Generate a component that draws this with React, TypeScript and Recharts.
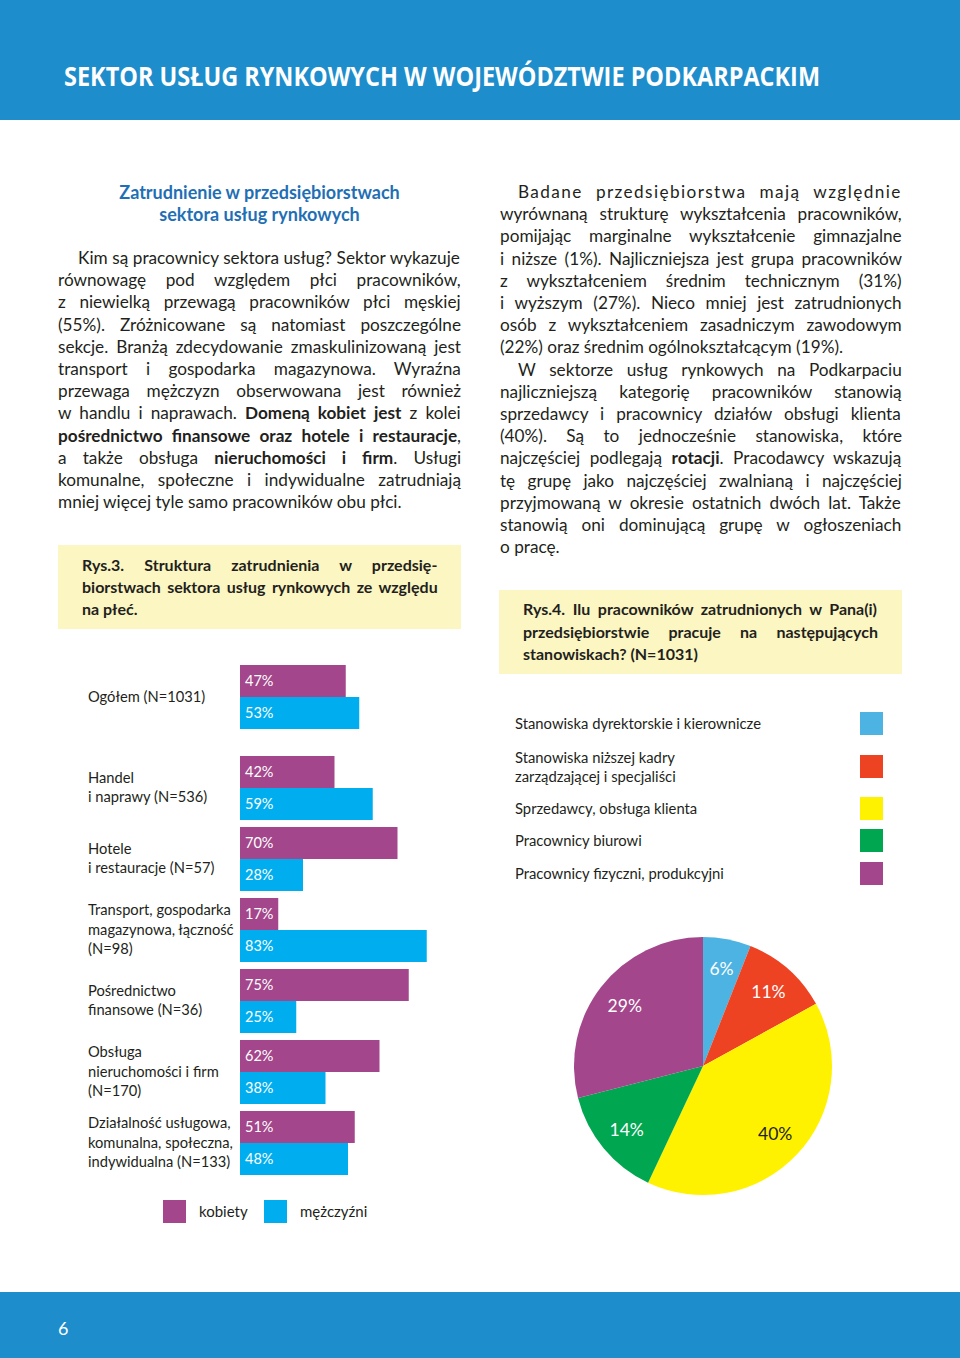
import React from 'react';
import { BarChart, Bar, XAxis, YAxis, LabelList, PieChart, Pie, Cell } from 'recharts';

// ---------- DATA ----------
const overallCategory = ['Ogółem (N=1031)'];
const overallWomen = [47];
const overallMen = [53];

const sectorCategories = [
  'Handel\ni naprawy (N=536)',
  'Hotele\ni restauracje (N=57)',
  'Transport, gospodarka\nmagazynowa, łączność\n(N=98)',
  'Pośrednictwo\nfinansowe (N=36)',
  'Obsługa\nnieruchomości i firm\n(N=170)',
  'Działalność usługowa,\nkomunalna, społeczna,\nindywidualna (N=133)',
];
const sectorWomen = [42, 70, 17, 75, 62, 51];
const sectorMen = [59, 28, 83, 25, 38, 48];

const seriesNames = ['kobiety', 'mężczyźni'];
const seriesColors = ['#a3468b', '#00aeef'];

const positionLabels = [
  'Stanowiska dyrektorskie i kierownicze',
  'Stanowiska niższej kadry\nzarządzającej i specjaliści',
  'Sprzedawcy, obsługa klienta',
  'Pracownicy biurowi',
  'Pracownicy fizyczni, produkcyjni',
];
const positionValues = [6, 11, 40, 14, 29];
const positionColors = ['#4cb3e2', '#ee4323', '#fff200', '#00a650', '#a3468b'];
const positionLabelColors = ['#ffffff', '#ffffff', '#231f20', '#ffffff', '#ffffff'];

// ---------- TEXT ----------
const leftHeading = ['Zatrudnienie w przedsiębiorstwach', 'sektora usług rynkowych'];
const leftLines = [
  'Kim są pracownicy sektora usług? Sektor wykazuje',
  'równowagę pod względem płci pracowników,',
  'z niewielką przewagą pracowników płci męskiej',
  '(55%). Zróżnicowane są natomiast poszczególne',
  'sekcje. Branżą zdecydowanie zmaskulinizowaną jest',
  'transport i gospodarka magazynowa. Wyraźna',
  'przewaga mężczyzn obserwowana jest również',
  'w handlu i naprawach. **Domeną kobiet jest** z kolei',
  '**pośrednictwo finansowe oraz hotele i restauracje**,',
  'a także obsługa **nieruchomości i firm**. Usługi',
  'komunalne, społeczne i indywidualne zatrudniają',
  'mniej więcej tyle samo pracowników obu płci.',
];
const leftIndent = [0];
const leftLast = [11];

const rightLines = [
  'Badane przedsiębiorstwa mają względnie',
  'wyrównaną strukturę wykształcenia pracowników,',
  'pomijając marginalne wykształcenie gimnazjalne',
  'i niższe (1%). Najliczniejsza jest grupa pracowników',
  'z wykształceniem średnim technicznym (31%)',
  'i wyższym (27%). Nieco mniej jest zatrudnionych',
  'osób z wykształceniem zasadniczym zawodowym',
  '(22%) oraz średnim ogólnokształcącym (19%).',
  'W sektorze usług rynkowych na Podkarpaciu',
  'najliczniejszą kategorię pracowników stanowią',
  'sprzedawcy i pracownicy działów obsługi klienta',
  '(40%). Są to jednocześnie stanowiska, które',
  'najczęściej podlegają **rotacji**. Pracodawcy wskazują',
  'tę grupę jako najczęściej zwalnianą i najczęściej',
  'przyjmowaną w okresie ostatnich dwóch lat. Także',
  'stanowią oni dominującą grupę w ogłoszeniach',
  'o pracę.',
];
const rightIndent = [0, 8];
const rightLast = [7, 16];

const fig3Lines = [
  'Rys.3. Struktura zatrudnienia w przedsię-',
  'biorstwach sektora usług rynkowych ze względu',
  'na płeć.',
];
const fig4Lines = [
  'Rys.4. Ilu pracowników zatrudnionych w Pana(i)',
  'przedsiębiorstwie pracuje na następujących',
  'stanowiskach? (N=1031)',
];

const pageTitle = 'SEKTOR USŁUG RYNKOWYCH W WOJEWÓDZTWIE PODKARPACKIM';
const pageNumber = '6';

// ---------- DERIVED TABLES ----------
const overallData = overallCategory.map((name, i) => ({ name, kobiety: overallWomen[i], mezczyzni: overallMen[i] }));
const sectorData = sectorCategories.map((name, i) => ({ name, kobiety: sectorWomen[i], mezczyzni: sectorMen[i] }));
const pieData = positionLabels.map((name, i) => ({ name, value: positionValues[i] }));

const FONT = 'Lato, "Open Sans", sans-serif';
const TEXT = '#231f20';
const BLUE_BAND = '#1e8dcc';
const YELLOW_BOX = '#fcf6c2';

let measureCtx: CanvasRenderingContext2D | null = null;
const measure = (s: string, size: number, weight: number) => {
  if (!measureCtx) measureCtx = document.createElement('canvas').getContext('2d');
  if (!measureCtx) return s.length * size * 0.5;
  measureCtx.font = `${weight} ${size}px Lato`;
  return measureCtx.measureText(s).width;
};

const TextLine = ({ text, left, center, width, justify, indent = 0, size = 17.2, bold = false, color = TEXT, spacing = 0, lh = 22.2 }: any) => {
  const segs = String(text).split('**');
  const plain = segs.join('');
  const w = width - indent;
  let wordSpacing = 0;
  if (justify) {
    const natural = segs.reduce((acc, seg, i) => acc + measure(seg, size, bold || i % 2 === 1 ? 700 : 400), 0) + spacing * plain.length;
    const gaps = (plain.match(/ /g) || []).length;
    if (gaps > 0) wordSpacing = (w - natural) / gaps;
  }
  return (
    <div
      style={{
        position: 'absolute',
        left: left + indent,
        top: center - lh / 2,
        width: w + 40,
        height: lh,
        lineHeight: `${lh}px`,
        fontSize: size,
        fontWeight: bold ? 700 : 400,
        color,
        whiteSpace: 'pre',
        letterSpacing: spacing,
        wordSpacing,
      }}
    >
      {segs.map((seg, i) => (
        <span key={i} style={i % 2 === 1 ? { fontWeight: 700 } : undefined}>{seg}</span>
      ))}
    </div>
  );
};

const CategoryTick = (props: any) => {
  const { y, payload } = props;
  const lines = String(payload.value).split('\n');
  const lh = 19.7;
  const start = y - ((lines.length - 1) * lh) / 2;
  return (
    <text x={8} y={start} fontSize={14.7} fill={TEXT} fontFamily={FONT}>
      {lines.map((l, i) => (
        <tspan key={i} x={8} y={start + i * lh + 5}>{l}</tspan>
      ))}
    </text>
  );
};

const BarValueLabel = (props: any) => {
  const { x, y, height, value } = props;
  return (
    <text x={Number(x) + 5} y={Number(y) + Number(height) / 2 + 5} fill="#ffffff" fontSize={14.5} fontFamily={FONT}>
      {value}%
    </text>
  );
};

const renderPieLabel = (props: any) => {
  const { cx, cy, midAngle, index, value } = props;
  const RAD = Math.PI / 180;
  const r = 99;
  const x = cx + r * Math.cos(-midAngle * RAD);
  const y = cy + r * Math.sin(-midAngle * RAD);
  return (
    <text x={x} y={y} textAnchor="middle" dominantBaseline="central" fill={positionLabelColors[index]} fontSize={17.5} fontFamily={FONT}>
      {value}%
    </text>
  );
};

const GenderBars = ({ data, height }: any) => (
  <BarChart layout="vertical" width={400} height={height} data={data} margin={{ top: 0, right: 15, bottom: 0, left: 0 }} barGap={0} barSize={32}>
    <XAxis type="number" domain={[0, 100]} hide />
    <YAxis type="category" dataKey="name" width={160} axisLine={false} tickLine={false} tick={<CategoryTick />} interval={0} />
    <Bar dataKey="kobiety" name={seriesNames[0]} fill={seriesColors[0]} isAnimationActive={false}>
      <LabelList dataKey="kobiety" content={<BarValueLabel />} />
    </Bar>
    <Bar dataKey="mezczyzni" name={seriesNames[1]} fill={seriesColors[1]} isAnimationActive={false}>
      <LabelList dataKey="mezczyzni" content={<BarValueLabel />} />
    </Bar>
  </BarChart>
);

export default function App() {
  const L = 22.2;
  return (
    <div style={{ position: 'absolute', left: 0, top: 0, width: 960, height: 1358, background: '#ffffff', overflow: 'hidden', fontFamily: FONT, color: TEXT }}>
      {/* header */}
      <div style={{ position: 'absolute', left: 0, top: 0, width: 960, height: 120, background: BLUE_BAND }} />
      <svg style={{ position: 'absolute', left: 0, top: 0 }} width={960} height={120}>
        <text x={64} y={86} fill="#ffffff" fontFamily='"Open Sans", sans-serif' fontWeight={700} fontSize={26} textLength={756} lengthAdjust="spacingAndGlyphs">
          {pageTitle}
        </text>
      </svg>

      {/* left column heading */}
      {leftHeading.map((t, i) => (
        <div key={i} style={{ position: 'absolute', left: 58, width: 403, top: 192 + i * L - 11, lineHeight: '22px', textAlign: 'center', fontWeight: 700, fontSize: 18, color: '#1f6fb5' }}>{t}</div>
      ))}

      {/* left column body */}
      {leftLines.map((t, i) => (
        <TextLine key={i} text={t} left={58} center={258 + i * L} width={403} justify={!leftLast.includes(i)} indent={leftIndent.includes(i) ? 20 : 0} />
      ))}

      {/* right column body */}
      {rightLines.map((t, i) => (
        <TextLine key={i} text={t} left={500} center={192 + i * L} width={402} justify={!rightLast.includes(i)} indent={rightIndent.includes(i) ? 18 : 0} spacing={i === 0 ? 1.4 : 0} />
      ))}

      {/* figure boxes */}
      <div style={{ position: 'absolute', left: 58, top: 545, width: 403, height: 84, background: YELLOW_BOX }} />
      {fig3Lines.map((t, i) => (
        <TextLine key={i} text={t} left={82} center={565 + i * 22} width={356} justify={i < 2} size={16} bold lh={22} />
      ))}
      <div style={{ position: 'absolute', left: 499, top: 590, width: 403, height: 84, background: YELLOW_BOX }} />
      {fig4Lines.map((t, i) => (
        <TextLine key={i} text={t} left={523} center={609 + i * 22.5} width={355} justify={i < 2} size={16} bold lh={22} />
      ))}

      {/* bar charts */}
      <div style={{ position: 'absolute', left: 80, top: 661 }}>
        <GenderBars data={overallData} height={71} />
      </div>
      <div style={{ position: 'absolute', left: 80, top: 752 }}>
        <GenderBars data={sectorData} height={426} />
      </div>

      {/* bar legend */}
      {seriesNames.map((n, i) => (
        <React.Fragment key={n}>
          <div style={{ position: 'absolute', left: 163 + i * 101, top: 1200, width: 23, height: 23, background: seriesColors[i] }} />
          <div style={{ position: 'absolute', left: 199 + i * 101, top: 1201, lineHeight: '20px', fontSize: 15 }}>{n}</div>
        </React.Fragment>
      ))}

      {/* pie legend */}
      {positionLabels.map((n, i) => {
        const centers = [723, 766, 808, 840, 873];
        const lines = n.split('\n');
        return (
          <React.Fragment key={n}>
            <div style={{ position: 'absolute', left: 860, top: centers[i] - 11.5, width: 23, height: 23, background: positionColors[i] }} />
            {lines.map((ln, j) => (
              <div key={j} style={{ position: 'absolute', left: 515, top: centers[i] - (lines.length - 1) * 9.5 + j * 19 - 10, lineHeight: '20px', fontSize: 14.8 }}>{ln}</div>
            ))}
          </React.Fragment>
        );
      })}

      {/* pie chart */}
      <div style={{ position: 'absolute', left: 503, top: 930 }}>
        <PieChart width={400} height={280} margin={{ top: 0, right: 0, bottom: 0, left: 0 }}>
          <Pie data={pieData} dataKey="value" nameKey="name" cx={200} cy={136} outerRadius={129} startAngle={90} endAngle={-270} stroke="none" label={renderPieLabel} labelLine={false} isAnimationActive={false}>
            {pieData.map((d, i) => (
              <Cell key={d.name} fill={positionColors[i]} />
            ))}
          </Pie>
        </PieChart>
      </div>

      {/* footer */}
      <div style={{ position: 'absolute', left: 0, top: 1292, width: 960, height: 66, background: BLUE_BAND }} />
      <div style={{ position: 'absolute', left: 58, top: 1316, lineHeight: '24px', fontSize: 18, color: '#ffffff' }}>{pageNumber}</div>
    </div>
  );
}
